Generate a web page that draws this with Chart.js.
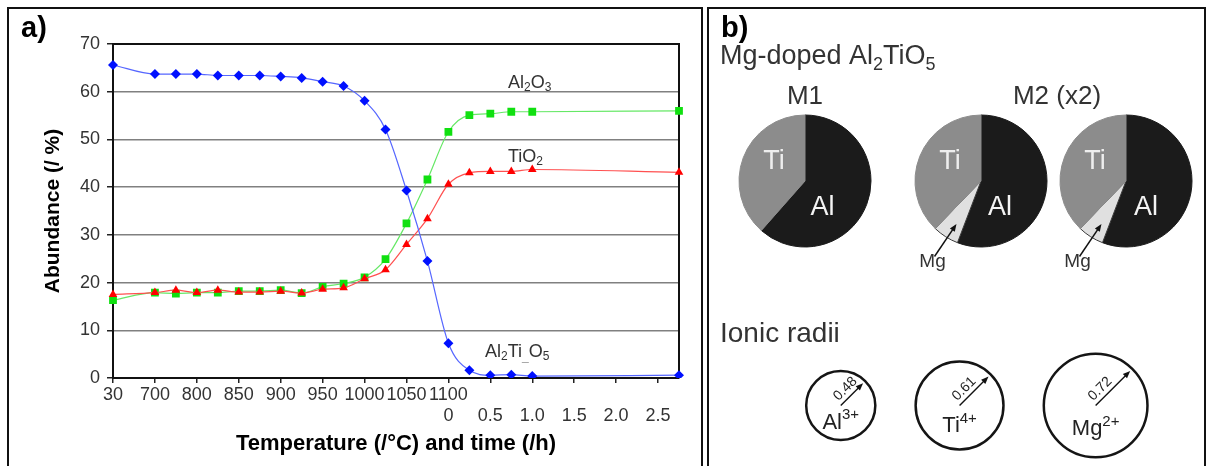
<!DOCTYPE html>
<html lang="en">
<head>
<meta charset="utf-8">
<title>Al2TiO5 decomposition</title>
<script src="https://cdn.jsdelivr.net/npm/chart.js@4.4.1/dist/chart.umd.min.js"></script>
<style>
  html, body { margin: 0; padding: 0; background: #fff; }
  body { position: relative; width: 1207px; height: 466px; overflow: hidden; }
  .marco { position: absolute; border: 2px solid #111; box-sizing: border-box; }
  canvas { position: absolute; }
</style>
</head>
<body>
<div class="marco" style="left:7px; top:7px; width:696px; height:500px;"></div>
<div class="marco" style="left:707px; top:7px; width:499px; height:500px;"></div>
<canvas id="graficoA" width="703" height="466" style="left:0; top:0;"></canvas>
<canvas id="tartaM1" width="150" height="170" style="left:730px; top:106px;"></canvas>
<canvas id="tartaM2a" width="150" height="170" style="left:906px; top:106px;"></canvas>
<canvas id="tartaM2b" width="150" height="170" style="left:1051px; top:106px;"></canvas>
<canvas id="graficoRadios" width="1207" height="466" style="left:0; top:0;"></canvas>
<script>
// ---- panel a: temperatura (°C) y luego tiempo a 1100 °C (h) ----
const temperaturas = [30, null, 700, 750, 800, 825, 850, 875, 900, 925, 950, 975, 1000, 1025, 1050, 1075, 1100];
const tiempos = [0, 0.25, 0.5, 0.75, 1.0, 1.25, 1.5, 1.75, 2.0, 2.25, 2.5, 2.75];

const al2tio5 = [65.6, null, 63.7, 63.7, 63.7, 63.4, 63.4, 63.4, 63.2, 62.9, 62.1, 61.2, 58.1, 52.1, 39.3, 24.5, 7.3,
                 1.6, 0.6, 0.7, 0.4, null, null, null, null, null, null, 0.6];
const al2o3   = [16.3, null, 17.9, 17.7, 17.9, 17.9, 18.2, 18.2, 18.4, 17.8, 19.1, 19.8, 21.1, 24.9, 32.4, 41.6, 51.6,
                 55.1, 55.4, 55.8, 55.8, null, null, null, null, null, null, 56.0];
const tio2    = [17.5, null, 17.9, 18.4, 17.9, 18.4, 18.0, 18.0, 18.2, 17.8, 18.6, 18.9, 20.8, 22.7, 28.0, 33.4, 40.6,
                 43.0, 43.3, 43.3, 43.7, null, null, null, null, null, null, 43.1];

// ---- panel b: ocupación de sitios y radios iónicos ----
const sitiosM1 = ['Al', 'Ti'];
const ocupacionM1 = [61.5, 38.5];
const sitiosM2 = ['Al', 'Mg', 'Ti'];
const ocupacionM2 = [55.8, 6.4, 37.8];
const iones = ['Al', 'Ti', 'Mg'];
const cargas = ['3+', '4+', '2+'];
const radiosIonicos = [0.48, 0.61, 0.72]; // Å

const FUENTE = '"Liberation Sans", Arial, Helvetica, sans-serif';
Chart.defaults.font.family = FUENTE;

const indiceCero = temperaturas.length - 1; // 1100 °C = 0 h
const categorias = temperaturas.map(t => t === null ? '' : t + ' °C')
  .concat(tiempos.slice(1).map(h => h + ' h'));
const etiquetaTiempo = h => h === 0 ? '0' : h.toFixed(1);

// texto con subíndices / superíndices: partes = [[texto, desplazamiento]] (1 sub, -1 sup)
function formula(ctx, partes, x, y, tam, color, alinear) {
  ctx.save();
  ctx.fillStyle = color;
  ctx.textAlign = 'left';
  ctx.textBaseline = 'alphabetic';
  const fuenteDe = d => (d ? Math.round(tam * 0.66) : tam) + 'px ' + FUENTE;
  let ancho = 0;
  partes.forEach(([t, d]) => { ctx.font = fuenteDe(d); ancho += ctx.measureText(t).width; });
  let cx = alinear === 'center' ? x - ancho / 2 : x;
  partes.forEach(([t, d, c]) => {
    ctx.font = fuenteDe(d);
    ctx.fillStyle = c || color;
    const dy = d === 1 ? tam * 0.22 : (d === -1 ? -tam * 0.42 : 0);
    ctx.fillText(t, cx, y + dy);
    cx += ctx.measureText(t).width;
  });
  ctx.restore();
}

function flecha(ctx, x0, y0, x1, y1, punta) {
  const ang = Math.atan2(y1 - y0, x1 - x0);
  ctx.beginPath();
  ctx.moveTo(x0, y0);
  ctx.lineTo(x1 - Math.cos(ang) * punta * 0.7, y1 - Math.sin(ang) * punta * 0.7);
  ctx.stroke();
  ctx.beginPath();
  ctx.moveTo(x1, y1);
  ctx.lineTo(x1 - punta * Math.cos(ang - 0.38), y1 - punta * Math.sin(ang - 0.38));
  ctx.lineTo(x1 - punta * Math.cos(ang + 0.38), y1 - punta * Math.sin(ang + 0.38));
  ctx.closePath();
  ctx.fill();
}

const marcoA = {
  id: 'marcoA',
  beforeDatasetsDraw(chart) {
    const { ctx, chartArea: a } = chart;
    ctx.save();
    ctx.strokeStyle = '#111';
    ctx.lineWidth = 2;
    ctx.beginPath();
    ctx.moveTo(a.left, a.top);
    ctx.lineTo(a.right, a.top);
    ctx.lineTo(a.right, a.bottom);
    ctx.stroke();
    ctx.restore();
  },
  afterDraw(chart) {
    const ctx = chart.ctx;
    ctx.save();
    ctx.fillStyle = '#000';
    ctx.font = 'bold 29px ' + FUENTE;
    ctx.fillText('a)', 21, 37);
    ctx.restore();
    formula(ctx, [['Al', 0], ['2', 1], ['O', 0], ['3', 1]], 508, 87.5, 18, '#333');
    formula(ctx, [['TiO', 0], ['2', 1]], 508, 161.5, 18, '#333');
    formula(ctx, [['Al', 0], ['2', 1], ['Ti', 0], ['_', 1, '#999'], ['O', 0], ['5', 1]], 485, 356.5, 18, '#333');
  }
};

new Chart(document.getElementById('graficoA'), {
  type: 'line',
  data: {
    labels: categorias,
    datasets: [
      { label: 'Al2TiO5', data: al2tio5, borderColor: '#5566ff', backgroundColor: '#0010ff',
        pointStyle: 'rectRot', pointRadius: 5 },
      { label: 'TiO2', data: tio2, borderColor: '#ff5050', backgroundColor: '#ff0000',
        pointStyle: 'triangle', pointRadius: 5 },
      { label: 'Al2O3', data: al2o3, borderColor: '#66e866', backgroundColor: '#10e010',
        pointStyle: 'rect', pointRadius: 5.5 }
    ]
  },
  options: {
    responsive: false,
    animation: false,
    events: [],
    spanGaps: true,
    layout: { autoPadding: false, padding: { left: 0, top: 44, right: 24, bottom: 0 } },
    elements: {
      line: { borderWidth: 1.2, cubicInterpolationMode: 'monotone' },
      point: { borderWidth: 0, hoverRadius: 5 }
    },
    plugins: { legend: { display: false }, tooltip: { enabled: false } },
    scales: {
      x: {
        ticks: {
          autoSkip: false, maxRotation: 0, minRotation: 0, padding: 2,
          color: '#333', font: { size: 18, lineHeight: 1.15 },
          callback: (v, i) => {
            if (i % 2) return '';
            const arriba = i <= indiceCero && temperaturas[i] !== null ? String(temperaturas[i]) : '';
            if (i < indiceCero) return arriba;
            return [arriba, etiquetaTiempo(tiempos[i - indiceCero])];
          }
        },
        grid: {
          drawOnChartArea: false, tickLength: 5, lineWidth: 1.5,
          tickColor: c => c.index % 2 === 0 ? '#222' : 'rgba(0,0,0,0)'
        },
        border: { color: '#111', width: 2 },
        title: {
          display: true, text: 'Temperature (/°C) and time (/h)', color: '#000',
          font: { size: 22, weight: 'bold' }, padding: { top: 0, bottom: 9 }
        },
        afterFit: s => { s.height = 88; }
      },
      y: {
        min: 0, max: 70,
        ticks: { stepSize: 10, color: '#333', font: { size: 18 }, padding: 7 },
        grid: { color: '#808080', lineWidth: 1.5, tickColor: '#222', tickLength: 6 },
        border: { color: '#111', width: 2 },
        title: {
          display: true, text: 'Abundance (/ %)', color: '#000',
          font: { size: 21, weight: 'bold' }, padding: { top: 41, bottom: 0 }
        },
        afterFit: s => { s.width = 113; }
      }
    }
  },
  plugins: [marcoA]
});

// ---- tartas de ocupación ----
const colorSitio = { Al: '#1b1b1b', Ti: '#8c8c8c', Mg: '#e0e0e0' };
const bordeSitio = { Al: '#1b1b1b', Ti: '#8c8c8c', Mg: '#3a3a3a' };

const etiquetasTarta = {
  id: 'etiquetasTarta',
  afterDraw(chart, args, opts) {
    const ctx = chart.ctx;
    const arco = chart.getDatasetMeta(0).data[0];
    const cx = arco.x, cy = arco.y;
    ctx.save();
    ctx.font = '27px ' + FUENTE;
    ctx.textAlign = 'center';
    ctx.textBaseline = 'middle';
    ctx.fillStyle = '#eeeeee';
    ctx.fillText('Ti', cx - 31, cy - 19);
    ctx.fillStyle = '#f4f4f4';
    ctx.fillText('Al', cx + opts.alX, cy + 26.5);
    if (opts.mg) {
      ctx.strokeStyle = '#111';
      ctx.fillStyle = '#111';
      ctx.lineWidth = 1.5;
      flecha(ctx, cx - 46.5, cy + 75.5, cx - 24.5, cy + 43, 8);
      ctx.fillStyle = '#333';
      ctx.font = '19px ' + FUENTE;
      ctx.textBaseline = 'alphabetic';
      ctx.fillText('Mg', cx - 48.5, cy + 85.5);
    }
    ctx.restore();
  }
};

function tarta(id, sitios, ocupacion, conMg, alX) {
  new Chart(document.getElementById(id), {
    type: 'pie',
    data: {
      labels: sitios,
      datasets: [{
        data: ocupacion,
        backgroundColor: sitios.map(s => colorSitio[s]),
        borderColor: sitios.map(s => bordeSitio[s]),
        borderWidth: 1,
        hoverOffset: 0
      }]
    },
    options: {
      responsive: false,
      animation: false,
      events: [],
      radius: 66,
      layout: { autoPadding: false, padding: { bottom: 20 } },
      plugins: { legend: { display: false }, tooltip: { enabled: false }, etiquetasTarta: { mg: conMg, alX } }
    },
    plugins: [etiquetasTarta]
  });
}
tarta('tartaM1', sitiosM1, ocupacionM1, false, 17.5);
tarta('tartaM2a', sitiosM2, ocupacionM2, true, 19);
tarta('tartaM2b', sitiosM2, ocupacionM2, true, 20);

// ---- radios iónicos (círculos a escala) y textos del panel b ----
const PX_POR_A = 72;   // píxeles por Å
const HUECO = 0.56;    // Å entre círculos
const posiciones = [];
radiosIonicos.forEach((r, i) => {
  posiciones.push(i === 0 ? 0 : posiciones[i - 1] + radiosIonicos[i - 1] + HUECO + r);
});

const detalleRadios = {
  id: 'detalleRadios',
  afterDraw(chart) {
    const ctx = chart.ctx;
    const d = Math.SQRT1_2;
    chart.getDatasetMeta(0).data.forEach((el, i) => {
      const R = radiosIonicos[i] * PX_POR_A;
      const x = el.x, y = el.y;
      ctx.save();
      ctx.strokeStyle = '#111';
      ctx.fillStyle = '#111';
      ctx.lineWidth = 1.4;
      flecha(ctx, x, y, x + d * (R - 3), y - d * (R - 3), 8);
      ctx.translate(x + d * 15 - d * 8.5, y - d * 15 - d * 8.5);
      ctx.rotate(-Math.PI / 4);
      ctx.font = '14px ' + FUENTE;
      ctx.textAlign = 'center';
      ctx.textBaseline = 'middle';
      ctx.fillStyle = '#222';
      ctx.fillText(radiosIonicos[i].toFixed(2), 0, 0);
      ctx.restore();
      formula(ctx, [[iones[i], 0], [cargas[i], -1]], x, y + 0.38 * R + 10, 22, '#222', 'center');
    });

    ctx.save();
    ctx.fillStyle = '#000';
    ctx.font = 'bold 29px ' + FUENTE;
    ctx.fillText('b)', 721, 37);
    ctx.restore();
    formula(ctx, [['Mg-doped Al', 0], ['2', 1], ['TiO', 0], ['5', 1]], 720, 64, 27, '#333');
    formula(ctx, [['M1', 0]], 805, 104, 26, '#333', 'center');
    formula(ctx, [['M2 (x2)', 0]], 1057, 104, 26, '#333', 'center');
    formula(ctx, [['Ionic radii', 0]], 720, 341.5, 28, '#333');
  }
};

new Chart(document.getElementById('graficoRadios'), {
  type: 'bubble',
  data: {
    labels: iones,
    datasets: [{
      data: iones.map((ion, i) => ({ x: posiciones[i], y: 0, r: radiosIonicos[i] * PX_POR_A })),
      backgroundColor: 'rgba(0,0,0,0)',
      borderColor: '#151515',
      borderWidth: 2.5,
      clip: false
    }]
  },
  options: {
    responsive: false,
    animation: false,
    events: [],
    layout: { autoPadding: false, padding: { left: 709, top: 345, right: 0, bottom: 0 } },
    plugins: { legend: { display: false }, tooltip: { enabled: false } },
    scales: {
      x: { type: 'linear', display: false, min: -1.83, max: -1.83 + 498 / PX_POR_A },
      y: { type: 'linear', display: false, min: -1, max: 1 }
    }
  },
  plugins: [detalleRadios]
});
</script>
</body>
</html>
